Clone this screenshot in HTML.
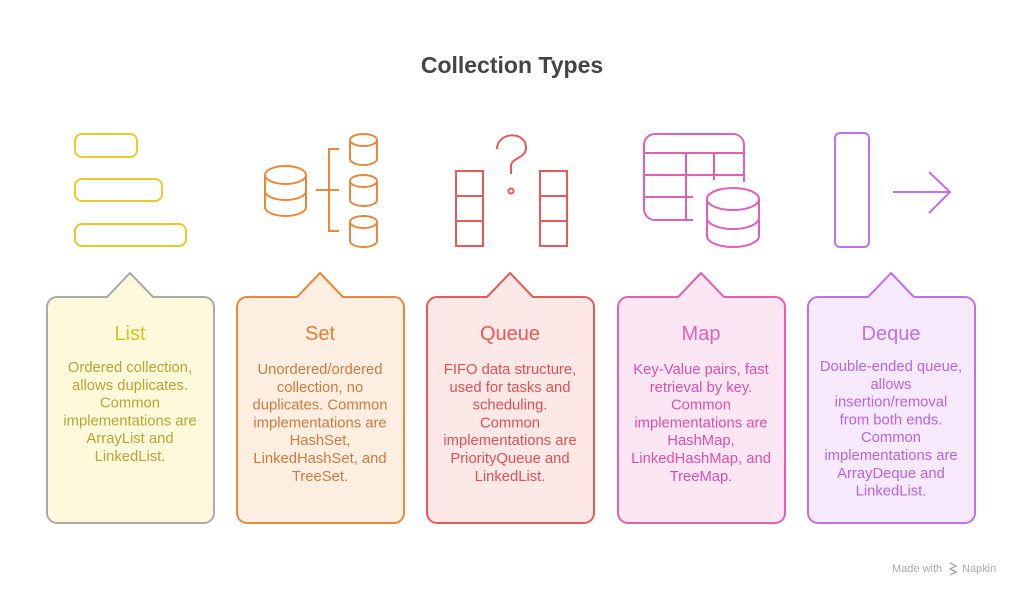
<!DOCTYPE html>
<html><head><meta charset="utf-8"><style>
html,body{margin:0;padding:0;background:#fff;}
svg{display:block}
text{font-family:"Liberation Sans",sans-serif;}
</style></head><body>
<svg width="1024" height="596" viewBox="0 0 1024 596" xmlns="http://www.w3.org/2000/svg">
<text x="512" y="73" text-anchor="middle" font-size="23" font-weight="bold" fill="#444">Collection Types</text>

<g fill="none" stroke="#e6cc2a" stroke-width="2">
<rect x="75" y="134" width="62" height="23" rx="7"/>
<rect x="75" y="179" width="87" height="22" rx="7"/>
<rect x="75" y="224" width="111" height="22" rx="7"/>
</g>
<g fill="none" stroke="#e8883a" stroke-width="2">
<path d="M265 175 a20.5 9 0 0 1 41 0 v32 a20.5 9 0 0 1 -41 0 z"/>
<path d="M265 175 a20.5 9 0 0 0 41 0"/>
<path d="M265 191 a20.5 9 0 0 0 41 0"/>
<path d="M316 190 H339 M339 149 H329 V231 H339"/>
<path d="M350 140 a13.5 6 0 0 1 27 0 v19 a13.5 6 0 0 1 -27 0 z M350 140 a13.5 6 0 0 0 27 0"/>
<path d="M350 181 a13.5 6 0 0 1 27 0 v19 a13.5 6 0 0 1 -27 0 z M350 181 a13.5 6 0 0 0 27 0"/>
<path d="M350 222 a13.5 6 0 0 1 27 0 v19 a13.5 6 0 0 1 -27 0 z M350 222 a13.5 6 0 0 0 27 0"/>
</g>
<g fill="none" stroke="#e85a5a" stroke-width="2">
<rect x="456" y="171" width="27" height="75"/>
<path d="M456 196 H483 M456 221 H483"/>
<rect x="540" y="171" width="27" height="75"/>
<path d="M540 196 H567 M540 221 H567"/>
<path d="M497 149 C497 132 526 130 526 148 C526 158 511 158 511 166 V174"/>
<circle cx="511" cy="191" r="2.5"/>
</g>
<g fill="none" stroke="#e060b8" stroke-width="2">
<path d="M744 182 V145 a11 11 0 0 0 -11 -11 H655 a11 11 0 0 0 -11 11 V209 a11 11 0 0 0 11 11 H693"/>
<path d="M644 153 H744 M644 175 H744 M644 197 H693 M686 153 V220 M714 153 V180"/>
<path d="M707 199 a26 11 0 0 1 52 0 v37 a26 11 0 0 1 -52 0 z" fill="#fff"/>
<path d="M707 199 a26 11 0 0 0 52 0 M707 218 a26 11 0 0 0 52 0"/>
</g>
<g fill="none" stroke="#c070e8" stroke-width="2">
<rect x="835" y="133" width="34" height="114" rx="5"/>
<path d="M893 192 H950 M929 172 L950 192 L929 213"/>
</g>

<g stroke-width="2" stroke-linejoin="round">
<path d="M57 297 H107 L130 273 L153 297 H204 a10 10 0 0 1 10 10 V513 a10 10 0 0 1 -10 10 H57 a10 10 0 0 1 -10 -10 V307 a10 10 0 0 1 10 -10 z" fill="#fef9db" stroke="#aaaaaa"/>
<path d="M247 297 H297 L320 273 L343 297 H394 a10 10 0 0 1 10 10 V513 a10 10 0 0 1 -10 10 H247 a10 10 0 0 1 -10 -10 V307 a10 10 0 0 1 10 -10 z" fill="#fdeee2" stroke="#e8883a"/>
<path d="M437 297 H487 L510 273 L533 297 H584 a10 10 0 0 1 10 10 V513 a10 10 0 0 1 -10 10 H437 a10 10 0 0 1 -10 -10 V307 a10 10 0 0 1 10 -10 z" fill="#fde8e8" stroke="#e85a5a"/>
<path d="M628 297 H678 L701 273 L724 297 H775 a10 10 0 0 1 10 10 V513 a10 10 0 0 1 -10 10 H628 a10 10 0 0 1 -10 -10 V307 a10 10 0 0 1 10 -10 z" fill="#fde6f4" stroke="#e060b8"/>
<path d="M818 297 H868 L891 273 L914 297 H965 a10 10 0 0 1 10 10 V513 a10 10 0 0 1 -10 10 H818 a10 10 0 0 1 -10 -10 V307 a10 10 0 0 1 10 -10 z" fill="#f7e9fc" stroke="#c070e8"/>
</g>

<g text-anchor="middle" font-size="20">
<text x="130" y="340" fill="#d8c21c">List</text>
<text x="320" y="340" fill="#e07f35">Set</text>
<text x="510" y="340" fill="#e85a5a">Queue</text>
<text x="701" y="340" fill="#e060b8">Map</text>
<text x="891" y="340" fill="#c070e8">Deque</text>
</g>
<g text-anchor="middle" font-size="14.8">
<text fill="#b5a632"><tspan x="130" y="372">Ordered collection,</tspan><tspan x="130" dy="17.8">allows duplicates.</tspan><tspan x="130" dy="17.8">Common</tspan><tspan x="130" dy="17.8">implementations are</tspan><tspan x="130" dy="17.8">ArrayList and</tspan><tspan x="130" dy="17.8">LinkedList.</tspan></text>
<text fill="#d07a3c"><tspan x="320" y="374">Unordered/ordered</tspan><tspan x="320" dy="17.8">collection, no</tspan><tspan x="320" dy="17.8">duplicates. Common</tspan><tspan x="320" dy="17.8">implementations are</tspan><tspan x="320" dy="17.8">HashSet,</tspan><tspan x="320" dy="17.8">LinkedHashSet, and</tspan><tspan x="320" dy="17.8">TreeSet.</tspan></text>
<text fill="#e05050"><tspan x="510" y="374">FIFO data structure,</tspan><tspan x="510" dy="17.8">used for tasks and</tspan><tspan x="510" dy="17.8">scheduling.</tspan><tspan x="510" dy="17.8">Common</tspan><tspan x="510" dy="17.8">implementations are</tspan><tspan x="510" dy="17.8">PriorityQueue and</tspan><tspan x="510" dy="17.8">LinkedList.</tspan></text>
<text fill="#d652ac"><tspan x="701" y="374">Key-Value pairs, fast</tspan><tspan x="701" dy="17.8">retrieval by key.</tspan><tspan x="701" dy="17.8">Common</tspan><tspan x="701" dy="17.8">implementations are</tspan><tspan x="701" dy="17.8">HashMap,</tspan><tspan x="701" dy="17.8">LinkedHashMap, and</tspan><tspan x="701" dy="17.8">TreeMap.</tspan></text>
<text fill="#b865e0"><tspan x="891" y="371">Double-ended queue,</tspan><tspan x="891" dy="17.8">allows</tspan><tspan x="891" dy="17.8">insertion/removal</tspan><tspan x="891" dy="17.8">from both ends.</tspan><tspan x="891" dy="17.8">Common</tspan><tspan x="891" dy="17.8">implementations are</tspan><tspan x="891" dy="17.8">ArrayDeque and</tspan><tspan x="891" dy="17.8">LinkedList.</tspan></text>
</g>
<text x="892" y="572" font-size="11" fill="#aaa">Made with</text>
<path d="M950 563 l6 3 l-6 3 l6 3 l-6 3" fill="none" stroke="#aaa" stroke-width="1.5"/>
<text x="962" y="572" font-size="11" fill="#aaa">Napkin</text>
</svg>
</body></html>
